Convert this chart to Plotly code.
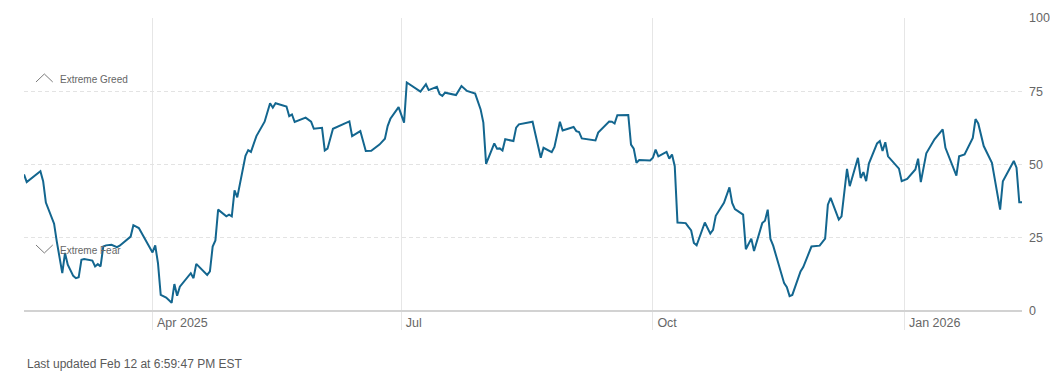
import plotly.graph_objects as go

# Fear & Greed index readings (date, value)
dates = [
    "2025-02-13", "2025-02-14", "2025-02-19", "2025-02-20", "2025-02-21", "2025-02-24",
    "2025-02-25", "2025-02-27", "2025-02-28", "2025-03-01", "2025-03-03", "2025-03-04",
    "2025-03-05", "2025-03-06", "2025-03-07", "2025-03-10", "2025-03-11", "2025-03-12",
    "2025-03-13", "2025-03-14", "2025-03-15", "2025-03-17", "2025-03-19", "2025-03-20",
    "2025-03-24", "2025-03-25", "2025-03-27", "2025-04-01", "2025-04-02", "2025-04-03",
    "2025-04-04", "2025-04-06", "2025-04-08", "2025-04-09", "2025-04-10", "2025-04-11",
    "2025-04-15", "2025-04-16", "2025-04-17", "2025-04-21", "2025-04-22", "2025-04-23",
    "2025-04-24", "2025-04-25", "2025-04-28", "2025-04-29", "2025-04-30", "2025-05-01",
    "2025-05-02", "2025-05-05", "2025-05-06", "2025-05-07", "2025-05-09", "2025-05-12",
    "2025-05-14", "2025-05-15", "2025-05-16", "2025-05-20", "2025-05-21", "2025-05-22",
    "2025-05-23", "2025-05-27", "2025-05-29", "2025-05-30", "2025-06-02", "2025-06-03",
    "2025-06-04", "2025-06-06", "2025-06-12", "2025-06-13", "2025-06-16", "2025-06-18",
    "2025-06-20", "2025-06-23", "2025-06-25", "2025-06-26", "2025-06-27", "2025-06-30",
    "2025-07-02", "2025-07-03", "2025-07-08", "2025-07-10", "2025-07-11", "2025-07-14",
    "2025-07-15", "2025-07-16", "2025-07-17", "2025-07-21", "2025-07-23", "2025-07-25",
    "2025-07-28", "2025-07-30", "2025-07-31", "2025-08-01", "2025-08-04", "2025-08-05",
    "2025-08-06", "2025-08-07", "2025-08-08", "2025-08-11", "2025-08-12", "2025-08-13",
    "2025-08-18", "2025-08-21", "2025-08-22", "2025-08-25", "2025-08-26", "2025-08-28",
    "2025-08-29", "2025-09-02", "2025-09-03", "2025-09-04", "2025-09-05", "2025-09-10",
    "2025-09-11", "2025-09-15", "2025-09-16", "2025-09-17", "2025-09-18", "2025-09-22",
    "2025-09-23", "2025-09-24", "2025-09-25", "2025-09-26", "2025-09-30", "2025-10-01",
    "2025-10-02", "2025-10-03", "2025-10-06", "2025-10-07", "2025-10-08", "2025-10-09",
    "2025-10-10", "2025-10-13", "2025-10-14", "2025-10-15", "2025-10-16", "2025-10-17",
    "2025-10-20", "2025-10-22", "2025-10-23", "2025-10-24", "2025-10-27", "2025-10-29",
    "2025-10-30", "2025-10-31", "2025-11-03", "2025-11-04", "2025-11-06", "2025-11-07",
    "2025-11-10", "2025-11-11", "2025-11-12", "2025-11-13", "2025-11-14", "2025-11-18",
    "2025-11-19", "2025-11-20", "2025-11-21", "2025-11-24", "2025-11-25", "2025-11-28",
    "2025-12-01", "2025-12-03", "2025-12-04", "2025-12-05", "2025-12-08", "2025-12-09",
    "2025-12-11", "2025-12-12", "2025-12-15", "2025-12-16", "2025-12-17", "2025-12-18",
    "2025-12-19", "2025-12-22", "2025-12-23", "2025-12-24", "2025-12-25", "2025-12-26",
    "2025-12-30", "2025-12-31", "2026-01-02", "2026-01-05", "2026-01-06", "2026-01-07",
    "2026-01-09", "2026-01-12", "2026-01-15", "2026-01-16", "2026-01-20", "2026-01-21",
    "2026-01-23", "2026-01-26", "2026-01-27", "2026-01-28", "2026-01-30", "2026-02-02",
    "2026-02-05", "2026-02-06", "2026-02-10", "2026-02-11", "2026-02-12", "2026-02-13",
]
values = [
    46.6, 44.0, 47.7, 44.3, 37.0, 29.8,
    23.7, 12.9, 19.8, 15.8, 12.0, 11.2,
    11.5, 17.5, 17.7, 17.2, 15.2, 16.0,
    15.2, 22.0, 22.4, 22.6, 21.8, 22.3,
    25.4, 29.3, 28.3, 20.0, 22.4, 16.3,
    5.5, 4.6, 2.8, 9.2, 5.2, 8.3,
    12.9, 11.2, 16.1, 12.3, 13.5, 22.0,
    24.1, 34.6, 32.3, 32.9, 32.3, 41.2,
    38.8, 53.0, 54.9, 54.3, 59.7, 64.6,
    70.9, 69.4, 70.9, 69.8, 66.5, 67.1,
    64.5, 66.0, 64.6, 62.2, 62.5, 54.8,
    55.4, 62.2, 64.7, 59.7, 61.4, 54.6,
    54.7, 56.8, 58.8, 63.1, 65.6, 69.6,
    64.3, 78.0, 74.9, 77.4, 75.4, 76.5,
    74.0, 73.4, 74.5, 73.7, 76.8, 75.1,
    74.2, 68.8, 64.3, 50.2, 57.2, 55.4,
    55.5, 54.8, 58.6, 58.0, 62.6, 63.7,
    64.6, 52.3, 55.7, 54.2, 56.0, 64.6,
    61.6, 62.8, 61.4, 61.1, 58.9, 58.2,
    60.9, 64.7, 64.6, 64.0, 66.8, 66.9,
    56.8, 55.4, 50.6, 51.5, 51.4, 52.3,
    55.1, 52.8, 54.3, 52.0, 53.4, 49.4,
    30.2, 30.0, 28.7, 27.5, 23.2, 22.4,
    30.2, 26.4, 27.7, 32.5, 36.9, 42.2,
    36.9, 34.8, 32.9, 21.1, 24.7, 20.5,
    30.0, 30.8, 34.6, 24.6, 22.3, 9.5,
    8.1, 5.1, 5.5, 13.5, 15.0, 22.0,
    22.3, 24.7, 36.3, 38.6, 31.2, 32.3,
    48.5, 42.6, 52.3, 45.4, 47.4, 44.3,
    50.3, 57.2, 58.0, 54.6, 57.6, 52.8,
    48.6, 44.3, 45.1, 48.3, 52.0, 44.0,
    53.8, 58.6, 62.0, 55.7, 46.2, 52.8,
    53.4, 59.1, 65.5, 64.0, 56.3, 50.6,
    34.6, 44.3, 51.2, 48.9, 37.1, 37.1,
]

x_tick_vals = ["2025-04-01", "2025-07-01", "2025-10-01", "2026-01-01"]
x_tick_text = ["Apr 2025", "Jul", "Oct", "Jan 2026"]
y_tick_vals = [0, 25, 50, 75, 100]
y_tick_text = ["0", "25", "50", "75", "100"]
x_range = ["2025-02-13", "2026-02-13"]
footer_text = "Last updated Feb 12 at 6:59:47 PM EST"
greed_label = "Extreme Greed"
fear_label = "Extreme Fear"

FONT = "Liberation Sans, Arial, Helvetica, sans-serif"
LINE_COLOR = "#13668f"

fig = go.Figure()
fig.add_trace(go.Scatter(
    x=dates, y=values, mode="lines",
    line=dict(color=LINE_COLOR, width=2),
    hoverinfo="skip", showlegend=False,
))

# The page body has an 8px margin, so the figure is sized/margined to compensate.
fig.update_layout(
    width=1050, height=375,
    margin=dict(l=16, r=36, t=10, b=72),
    paper_bgcolor="white", plot_bgcolor="white",
    font=dict(family=FONT, color="#666666", size=12),
    showlegend=False,
    xaxis=dict(
        type="date", range=x_range,
        tickvals=x_tick_vals, ticktext=x_tick_text,
        showgrid=True, gridcolor="#e6e6e6", gridwidth=1,
        ticks="outside", ticklen=18, tickcolor="#e6e6e6", tickwidth=1,
        ticklabelposition="outside right", ticklabelstandoff=0, ticklabelshift=4,
        tickfont=dict(size=12.5, color="#666666"),
        showline=False, zeroline=False, fixedrange=True, automargin=False,
    ),
    yaxis=dict(
        range=[0, 100], side="right",
        tickvals=y_tick_vals, ticktext=y_tick_text,
        showgrid=True, gridcolor="#e3e3e3", gridwidth=1, griddash="4px,3px",
        zeroline=True, zerolinecolor="#d2d2d2", zerolinewidth=2,
        ticks="", ticklabelstandoff=6,
        tickfont=dict(size=12.5, color="#666666"),
        showline=False, fixedrange=True, automargin=False,
    ),
)

# Zone markers (chevrons + labels) in paper coordinates
fig.add_shape(type="path", xref="paper", yref="paper",
              path="M 0.0120,0.7816 L 0.0204,0.8089 L 0.0288,0.7816",
              line=dict(color="#7a7a7a", width=1))
fig.add_shape(type="path", xref="paper", yref="paper",
              path="M 0.0120,0.2253 L 0.0204,0.1980 L 0.0288,0.2253",
              line=dict(color="#7a7a7a", width=1))
fig.add_annotation(x=0.0345, y=0.789, xref="paper", yref="paper",
                   text=greed_label, showarrow=False, xanchor="left", yanchor="middle",
                   font=dict(size=10, color="#666666", family=FONT))
fig.add_annotation(x=0.0345, y=0.2065, xref="paper", yref="paper",
                   text=fear_label, showarrow=False, xanchor="left", yanchor="middle",
                   font=dict(size=10, color="#666666", family=FONT))

# Footer
fig.add_annotation(x=0.001, y=-0.181, xref="paper", yref="paper",
                   text=footer_text, showarrow=False, xanchor="left", yanchor="middle",
                   font=dict(size=12, color="#5a5a5a", family=FONT))

fig.write_html("out.html")
